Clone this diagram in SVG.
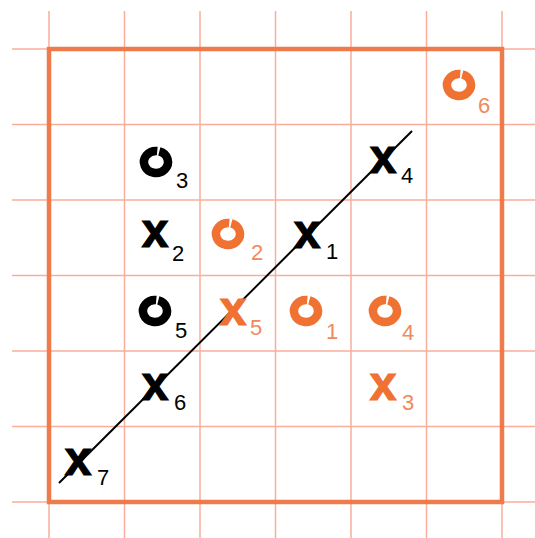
<svg xmlns="http://www.w3.org/2000/svg" xmlns:xlink="http://www.w3.org/1999/xlink" width="535" height="538" viewBox="0 0 535 538">
  <style>
    .grid line { stroke: #F8AE98; stroke-width: 1.5; }
    .border { fill: none; stroke: #EF7B4D; stroke-width: 4.5; }
    .xm { font-family: "Liberation Sans", Arial, sans-serif; font-weight: bold; font-size: 48px; text-anchor: middle; stroke-width: 1.2; }
    .sub { font-family: "Liberation Sans", Arial, sans-serif; font-size: 22px; }
    .blk { fill: #000000; }
    .xm.blk { stroke: #000000; }
    .org { fill: #F07232; }
    .xm.org { stroke: #F07232; }
    .orgsub { fill: #F08A5C; }
    .ringb { fill: none; stroke: #000000; stroke-width: 8.5; }
    .ringo { fill: none; stroke: #F07232; stroke-width: 8.5; }
    .sep { stroke: #000000; stroke-width: 2; fill: none; }
  </style>
  <defs>
    <path id="ring" d="M 3.31 -10.57 A 12 11 0 1 1 1.25 -10.94"/>
  </defs>
  <rect width="535" height="538" fill="#ffffff"/>
  <g id="grid" class="grid">
    <line x1="49" y1="11" x2="49" y2="538"/>
    <line x1="124.5" y1="11" x2="124.5" y2="538"/>
    <line x1="200" y1="11" x2="200" y2="538"/>
    <line x1="275.5" y1="11" x2="275.5" y2="538"/>
    <line x1="351" y1="11" x2="351" y2="538"/>
    <line x1="426.5" y1="11" x2="426.5" y2="538"/>
    <line x1="502" y1="11" x2="502" y2="538"/>
    <line x1="12" y1="49" x2="535" y2="49"/>
    <line x1="12" y1="124.5" x2="535" y2="124.5"/>
    <line x1="12" y1="200" x2="535" y2="200"/>
    <line x1="12" y1="275.5" x2="535" y2="275.5"/>
    <line x1="12" y1="351" x2="535" y2="351"/>
    <line x1="12" y1="426.5" x2="535" y2="426.5"/>
    <line x1="12" y1="502" x2="535" y2="502"/>
  </g>
  <rect id="border" class="border" x="49" y="49" width="453" height="453"/>
  <g id="connectors">
    <line class="sep" x1="59" y1="483" x2="412" y2="131"/>
  </g>
  <g id="o3"><use href="#ring" xlink:href="#ring" x="156" y="162" class="ringb"/><text class="sub blk" x="176" y="188">3</text></g>
  <g id="x2"><text class="xm blk" x="155" y="247">x</text><text class="sub blk" x="172" y="261">2</text></g>
  <g id="o2"><use href="#ring" xlink:href="#ring" x="228" y="234" class="ringo"/><text class="sub orgsub" x="251" y="260">2</text></g>
  <g id="x1"><text class="xm blk" x="307" y="248">x</text><text class="sub blk" x="326" y="259">1</text></g>
  <g id="x4"><text class="xm blk" x="383" y="173">x</text><text class="sub blk" x="401" y="183">4</text></g>
  <g id="o6"><use href="#ring" xlink:href="#ring" x="459" y="85" class="ringo"/><text class="sub orgsub" x="478" y="113">6</text></g>
  <g id="o5"><use href="#ring" xlink:href="#ring" x="155" y="311" class="ringb"/><text class="sub blk" x="175" y="338">5</text></g>
  <g id="x5"><text class="xm org" x="233" y="325">x</text><text class="sub orgsub" x="250" y="335">5</text></g>
  <g id="o1"><use href="#ring" xlink:href="#ring" x="306" y="311" class="ringo"/><text class="sub orgsub" x="326" y="339">1</text></g>
  <g id="o4"><use href="#ring" xlink:href="#ring" x="385" y="311" class="ringo"/><text class="sub orgsub" x="402" y="340">4</text></g>
  <g id="x6"><text class="xm blk" x="155" y="400">x</text><text class="sub blk" x="174" y="410">6</text></g>
  <g id="x3"><text class="xm org" x="383" y="400">x</text><text class="sub orgsub" x="402" y="410">3</text></g>
  <g id="x7"><text class="xm blk" x="78" y="475">x</text><text class="sub blk" x="97" y="485">7</text></g>
</svg>
